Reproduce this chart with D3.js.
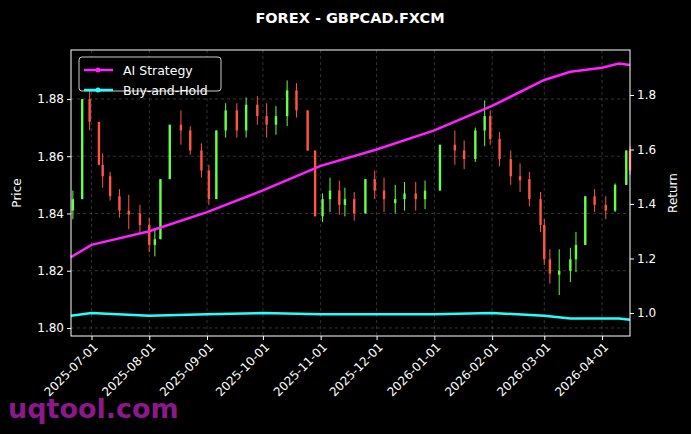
<!DOCTYPE html>
<html>
<head>
<meta charset="utf-8">
<script src="https://cdn.jsdelivr.net/npm/d3@7"></script>
<style>
  body { margin: 0; background: #000; }
  text { font-family: "DejaVu Sans", sans-serif; }
</style>
</head>
<body>
<svg id="chart" width="691" height="434"></svg>
<script>
// Price track (closes)
const dates = ['2025-06-21','2025-06-26','2025-06-30','2025-07-05','2025-07-07','2025-07-11','2025-07-16','2025-07-21','2025-07-27',
  '2025-08-01','2025-08-04','2025-08-07','2025-08-12','2025-08-18','2025-08-23','2025-08-29','2025-09-02','2025-09-06','2025-09-11',
  '2025-09-17','2025-09-22','2025-09-28','2025-10-03','2025-10-08','2025-10-14','2025-10-19','2025-10-25','2025-10-29','2025-11-02',
  '2025-11-06','2025-11-11','2025-11-14','2025-11-19','2025-11-25','2025-11-30','2025-12-05','2025-12-11','2025-12-16','2025-12-22',
  '2025-12-27','2026-01-04','2026-01-12','2026-01-17','2026-01-23','2026-01-28','2026-01-31','2026-02-05','2026-02-11','2026-02-16',
  '2026-02-21','2026-02-27','2026-03-01','2026-03-04','2026-03-09','2026-03-15','2026-03-18','2026-03-23','2026-03-28','2026-04-03',
  '2026-04-08','2026-04-14','2026-04-16']
const closes = [1.845,1.880,1.872,1.857,1.853,1.846,1.841,1.840,1.836,
  1.829,1.831,1.852,1.871,1.869,1.862,1.855,1.845,1.869,1.876,
  1.869,1.878,1.874,1.871,1.874,1.883,1.876,1.862,1.839,1.845,
  1.848,1.843,1.845,1.840,1.852,1.848,1.845,1.845,1.847,1.845,
  1.848,1.864,1.862,1.859,1.869,1.874,1.866,1.859,1.853,1.852,
  1.845,1.836,1.824,1.819,1.820,1.824,1.829,1.846,1.843,1.841,
  1.850,1.862,1.855]
// visible high-low span of each cluster of bars
const spans = [0.010,0.012,0.014,0.010,0.012,0.010,0.010,0.012,0.010,
  0.012,0.010,0.014,0.012,0.012,0.010,0.012,0.014,0.014,0.012,
  0.012,0.014,0.010,0.012,0.010,0.016,0.012,0.014,0.014,0.010,
  0.012,0.012,0.010,0.010,0.012,0.010,0.012,0.010,0.010,0.010,
  0.010,0.012,0.012,0.010,0.012,0.016,0.012,0.012,0.012,0.010,
  0.012,0.014,0.016,0.012,0.016,0.012,0.014,0.008,0.008,0.008,
  0.010,0.012,0.010]

// Equity curves (monthly read-offs)
const curveDates = ['2025-06-20','2025-07-01','2025-08-01','2025-09-01','2025-10-01','2025-11-01','2025-12-01','2026-01-01','2026-02-01','2026-03-01','2026-03-15','2026-04-01','2026-04-10','2026-04-16']
const aiStrategy = [1.205,1.25,1.30,1.37,1.45,1.54,1.60,1.67,1.76,1.855,1.885,1.90,1.915,1.91]
const buyHold = [0.99,1.00,0.99,0.995,1.00,0.995,0.995,0.995,1.00,0.99,0.98,0.98,0.98,0.975]

const priceTicks = [1.80, 1.82, 1.84, 1.86, 1.88]
const returnTicks = [1.0, 1.2, 1.4, 1.6, 1.8]
const monthTicks = ['2025-07-01','2025-08-01','2025-09-01','2025-10-01','2025-11-01','2025-12-01','2026-01-01','2026-02-01','2026-03-01','2026-04-01']

const parse = d3.timeParse('%Y-%m-%d')
const svg = d3.select('#chart')
const m = { left: 71, right: 630, top: 50, bottom: 336 }

const x = d3.scaleTime().domain([parse('2025-06-20'), parse('2026-04-16')]).range([m.left, m.right])
const yP = d3.scaleLinear().domain([1.7972, 1.8971]).range([m.bottom, m.top])
const yR = d3.scaleLinear().domain([0.9156, 1.965]).range([m.bottom, m.top])

svg.append('rect').attr('width', 691).attr('height', 434).attr('fill', '#000')

// grid
const grid = svg.append('g').attr('stroke', '#555').attr('stroke-dasharray', '3,3').attr('stroke-width', 0.6)
monthTicks.forEach(d => {
  grid.append('line').attr('x1', x(parse(d))).attr('x2', x(parse(d))).attr('y1', m.top).attr('y2', m.bottom)
})
priceTicks.forEach(v => {
  grid.append('line').attr('x1', m.left).attr('x2', m.right).attr('y1', yP(v)).attr('y2', yP(v))
})

// candles: open is previous close, wick spans the cluster range
const candles = svg.append('g')
closes.forEach((c, i) => {
  const o = i === 0 ? c - 0.004 : closes[i - 1]
  const col = c >= o ? '#66ff44' : '#ff5544'
  const cx = x(parse(dates[i]))
  const mid = (o + c) / 2
  candles.append('line').attr('x1', cx).attr('x2', cx)
    .attr('y1', yP(Math.max(o, c, mid + spans[i] / 2))).attr('y2', yP(Math.min(o, c, mid - spans[i] / 2)))
    .attr('stroke', col).attr('stroke-width', 1)
  const top = yP(Math.max(o, c))
  const bot = yP(Math.min(o, c))
  candles.append('rect')
    .attr('x', cx - 1.2).attr('y', top)
    .attr('width', 2.4).attr('height', Math.max(bot - top, 4))
    .attr('fill', col)
})

const line = d3.line().x((d, i) => x(parse(curveDates[i]))).y(d => yR(d))
svg.append('path').datum(aiStrategy).attr('d', line).attr('fill', 'none').attr('stroke', '#ff22ff').attr('stroke-width', 2.5)
svg.append('path').datum(buyHold).attr('d', line).attr('fill', 'none').attr('stroke', '#22ffff').attr('stroke-width', 2.5)

// frame
svg.append('rect').attr('x', m.left).attr('y', m.top).attr('width', m.right - m.left).attr('height', m.bottom - m.top)
  .attr('fill', 'none').attr('stroke', '#fff').attr('stroke-width', 1)

// axes
const axL = svg.append('g').attr('transform', `translate(${m.left},0)`)
  .call(d3.axisLeft(yP).tickValues(priceTicks).tickFormat(d3.format('.2f')).tickSize(4))
const axR = svg.append('g').attr('transform', `translate(${m.right},0)`)
  .call(d3.axisRight(yR).tickValues(returnTicks).tickFormat(d3.format('.1f')).tickSize(4))
const axB = svg.append('g').attr('transform', `translate(0,${m.bottom})`)
  .call(d3.axisBottom(x).tickValues(monthTicks.map(parse)).tickFormat(d3.timeFormat('%Y-%m-%d')).tickSize(4))
;[axL, axR, axB].forEach(a => {
  a.select('.domain').remove()
  a.selectAll('line').attr('stroke', '#fff')
  a.selectAll('text').attr('fill', '#fff').style('font-size', '12px')
})
axB.selectAll('text').attr('text-anchor', 'end').attr('dx', '-0.3em').attr('dy', '0.5em')
  .attr('transform', 'rotate(-45)')

svg.append('text').attr('transform', `translate(21,${(m.top + m.bottom) / 2}) rotate(-90)`)
  .attr('text-anchor', 'middle').attr('fill', '#fff').style('font-size', '12px').text('Price')
svg.append('text').attr('transform', `translate(677,${(m.top + m.bottom) / 2}) rotate(-90)`)
  .attr('text-anchor', 'middle').attr('fill', '#fff').style('font-size', '12px').text('Return')

svg.append('text').attr('x', 350).attr('y', 23).attr('text-anchor', 'middle').attr('fill', '#fff')
  .style('font-size', '14.5px').style('font-weight', 'bold').text('FOREX - GBPCAD.FXCM')

// legend
const lg = svg.append('g')
lg.append('rect').attr('x', 79).attr('y', 57).attr('width', 142).attr('height', 34).attr('rx', 3)
  .attr('fill', '#000').attr('stroke', '#ccc')
;[['AI Strategy', '#ff22ff'], ['Buy-and-Hold', '#22ffff']].forEach(([t, c], i) => {
  const yy = 70 + i * 20
  lg.append('line').attr('x1', 84).attr('x2', 113).attr('y1', yy).attr('y2', yy).attr('stroke', c).attr('stroke-width', 2.5)
  lg.append('circle').attr('cx', 98).attr('cy', yy).attr('r', 2.5).attr('fill', c)
  lg.append('text').attr('x', 123).attr('y', yy + 4.5).attr('fill', '#fff').style('font-size', '12.5px').text(t)
})

svg.append('text').attr('x', 8).attr('y', 418).attr('fill', '#8a1a8a').style('font-size', '27px')
  .style('font-weight', 'bold').text('uqtool.com')
</script>
</body>
</html>
